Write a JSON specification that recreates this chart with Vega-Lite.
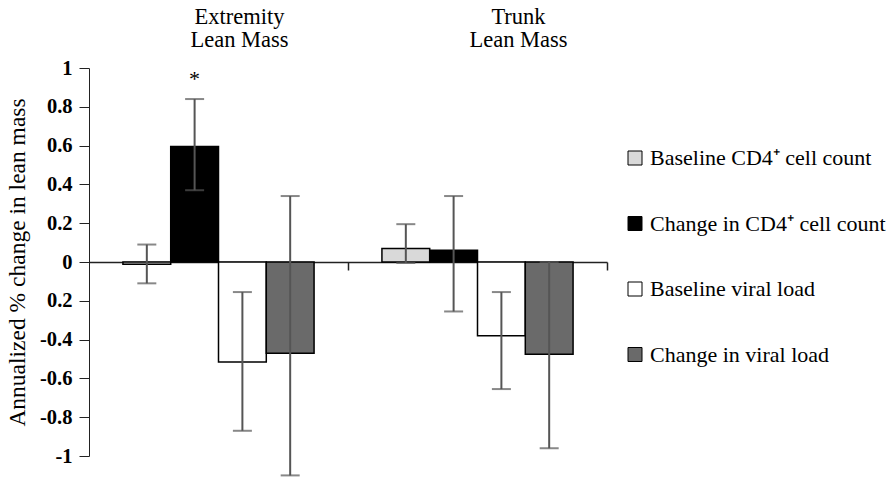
{
  "$schema": "https://vega.github.io/schema/vega-lite/v6.json",
  "width": 518,
  "height": 388,
  "padding": {"left": 5, "top": 5, "right": 0, "bottom": 5},
  "background": "white",
  "config": {
    "view": {"stroke": null},
    "font": "Liberation Serif",
    "text": {"font": "Liberation Serif"},
    "axis": {"grid": false, "labelFont": "Liberation Serif", "titleFont": "Liberation Serif", "labelColor": "black", "titleColor": "black", "domainColor": "#222", "tickColor": "#222"},
    "legend": {"labelFont": "Liberation Serif"}
  },
  "data": {
    "values": [
      {"region": "Extremity", "series": "Baseline CD4⁺ cell count", "value": -0.012, "lo": -0.11, "hi": 0.09, "sig": ""},
      {"region": "Extremity", "series": "Change in CD4⁺ cell count", "value": 0.595, "lo": 0.37, "hi": 0.84, "sig": "*"},
      {"region": "Extremity", "series": "Baseline viral load", "value": -0.515, "lo": -0.87, "hi": -0.155, "sig": ""},
      {"region": "Extremity", "series": "Change in viral load", "value": -0.47, "lo": -1.1, "hi": 0.34, "sig": ""},
      {"region": "Trunk", "series": "Baseline CD4⁺ cell count", "value": 0.07, "lo": -0.005, "hi": 0.195, "sig": ""},
      {"region": "Trunk", "series": "Change in CD4⁺ cell count", "value": 0.06, "lo": -0.255, "hi": 0.34, "sig": ""},
      {"region": "Trunk", "series": "Baseline viral load", "value": -0.38, "lo": -0.655, "hi": -0.155, "sig": ""},
      {"region": "Trunk", "series": "Change in viral load", "value": -0.475, "lo": -0.96, "hi": 0.0, "sig": ""}
    ]
  },
  "layer": [
    {
      "mark": {"type": "bar", "stroke": "black", "strokeWidth": 1.5},
      "encoding": {
        "x": {
          "field": "region", "type": "nominal",
          "scale": {"domain": ["Extremity", "Trunk"], "paddingInner": 0, "paddingOuter": 0},
          "axis": {"orient": "top", "title": null, "domain": false, "ticks": false, "labelAngle": 0, "labelFont": "Liberation Serif", "labelFontSize": 22.5, "labelPadding": 40, "labelOffset": {"expr": "datum.value == 'Trunk' ? 41 : 21"}, "labelLineHeight": 23, "labelExpr": "[datum.value, 'Lean Mass']"}
        },
        "xOffset": {
          "field": "series", "type": "nominal",
          "scale": {"domain": ["Baseline CD4⁺ cell count", "Change in CD4⁺ cell count", "Baseline viral load", "Change in viral load"], "paddingInner": 0, "paddingOuter": 0.71}
        },
        "y": {
          "field": "value", "type": "quantitative",
          "scale": {"domain": [-1, 1], "nice": false},
          "title": "Annualized % change in lean mass",
          "axis": {"values": [-1, -0.8, -0.6, -0.4, -0.2, 0, 0.2, 0.4, 0.6, 0.8, 1], "tickCount": 30, "labelOverlap": false, "labelFont": "Liberation Serif", "titleFont": "Liberation Serif", "labelFontSize": 20.5, "labelFontWeight": "bold", "titleFontSize": 23.5, "titleFontWeight": "normal", "tickSize": 10, "labelPadding": 7, "titlePadding": 10,
            "labelExpr": "datum.value > -0.25 && datum.value < -0.15 ? '0.2' : (datum.value < 0 ? '-' + format(-datum.value, '.1~f') : format(datum.value, '.1~f'))"}
        },
        "fill": {
          "field": "series", "type": "nominal",
          "scale": {"domain": ["Baseline CD4⁺ cell count", "Change in CD4⁺ cell count", "Baseline viral load", "Change in viral load"], "range": ["#d9d9d9", "#000000", "#ffffff", "#6a6a6a"]},
          "legend": {"title": null, "orient": "none", "legendX": 535, "legendY": 79, "symbolType": "square", "symbolSize": 196, "symbolStrokeColor": "black", "symbolStrokeWidth": 1, "labelFont": "Liberation Serif", "labelFontSize": 22, "labelColor": "black", "rowPadding": 43.5, "labelOffset": 4, "labelLimit": 400}
        }
      }
    },
    {
      "mark": {"type": "rule", "color": "#555", "strokeWidth": 2},
      "encoding": {
        "x": {
          "field": "region", "type": "nominal",
          "scale": {"domain": ["Extremity", "Trunk"], "paddingInner": 0, "paddingOuter": 0},
          "axis": {"orient": "bottom", "title": null, "labels": false, "offset": -194, "bandPosition": 1, "tickSize": 8, "domainWidth": 1.5, "tickWidth": 1.5}
        },
        "xOffset": {"field": "series", "type": "nominal"},
        "y": {"field": "lo", "type": "quantitative", "title": "Annualized % change in lean mass"},
        "y2": {"field": "hi"}
      }
    },
    {
      "mark": {"type": "tick", "color": "#555", "thickness": 2, "size": 19},
      "encoding": {
        "x": {"field": "region", "type": "nominal", "axis": null},
        "xOffset": {"field": "series", "type": "nominal"},
        "y": {"field": "lo", "type": "quantitative", "title": "Annualized % change in lean mass"}
      }
    },
    {
      "mark": {"type": "tick", "color": "#555", "thickness": 2, "size": 19},
      "encoding": {
        "x": {"field": "region", "type": "nominal", "axis": null},
        "xOffset": {"field": "series", "type": "nominal"},
        "y": {"field": "hi", "type": "quantitative", "title": "Annualized % change in lean mass"}
      }
    },
    {
      "mark": {"type": "text", "fontSize": 22, "dy": -20, "color": "black", "font": "Liberation Serif"},
      "encoding": {
        "x": {"field": "region", "type": "nominal", "axis": null},
        "xOffset": {"field": "series", "type": "nominal"},
        "y": {"field": "hi", "type": "quantitative", "title": "Annualized % change in lean mass"},
        "text": {"field": "sig"}
      }
    }
  ],
  "resolve": {"axis": {"x": "independent"}}
}
